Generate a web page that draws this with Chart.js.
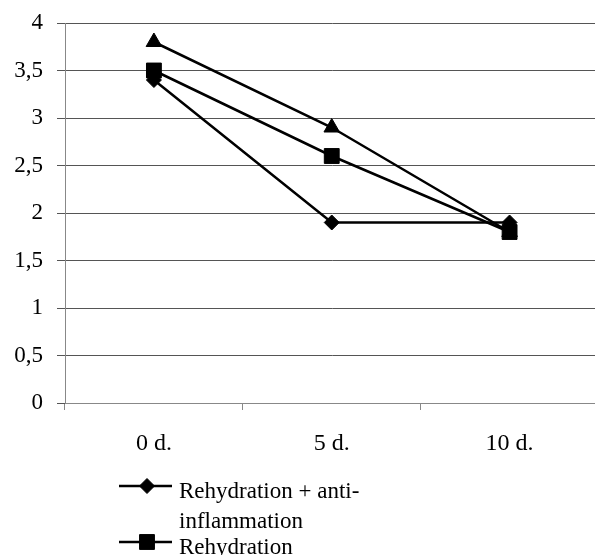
<!DOCTYPE html>
<html>
<head>
<meta charset="utf-8">
<script src="https://cdn.jsdelivr.net/npm/chart.js@4.4.1/dist/chart.umd.min.js"></script>
<style>
    html, body { margin: 0; padding: 0; background: #fff; overflow: hidden; }
    #wrap { width: 610px; height: 555px; }
</style>
</head>
<body>
<div id="wrap"><canvas id="chart" width="610" height="555"></canvas></div>
<script>
const days = ['0 d.', '5 d.', '10 d.'];
const seriesNames = ['Rehydration + anti-inflammation', 'Rehydration', 'Anti-inflammation'];
const combinedValues = [3.4, 1.9, 1.9];
const rehydrationValues = [3.5, 2.6, 1.8];
const antiInflammationValues = [3.8, 2.9, 1.8];
const yMin = 0;
const yMax = 4;
const yStep = 0.5;

const FONT = '"Liberation Serif", "Times New Roman", serif';

function fmtTick(value) {
    return String(value).replace('.', ',');
}

function wrapText(ctx, text, maxWidth) {
    const tokens = text.match(/[^\s-]+-?\s*/g) || [text];
    const lines = [];
    let current = '';
    tokens.forEach((tok) => {
        const trial = current + tok;
        if (current && ctx.measureText(trial.trim()).width > maxWidth) {
            lines.push(current.trim());
            current = tok;
        } else {
            current = trial;
        }
    });
    if (current) lines.push(current.trim());
    return lines;
}

// legend drawn under the axis, wrapped like the original
const bottomLegend = {
    id: 'bottomLegend',
    afterDraw(chart) {
        const ctx = chart.ctx;
        ctx.save();
        ctx.font = `23px ${FONT}`;
        ctx.textBaseline = 'alphabetic';
        let y = 486;
        chart.data.datasets.forEach((ds) => {
            const lines = wrapText(ctx, ds.label, 200);
            ctx.strokeStyle = '#000';
            ctx.fillStyle = '#000';
            ctx.lineWidth = 2.5;
            ctx.beginPath();
            ctx.moveTo(119, y);
            ctx.lineTo(172, y);
            ctx.stroke();
            ctx.lineWidth = 1;
            Chart.helpers.drawPoint(ctx, {
                pointStyle: ds.pointStyle,
                radius: ds.pointRadius,
                rotation: 0,
                borderWidth: 1,
            }, 147, y);
            lines.forEach((line, i) => ctx.fillText(line, 179, y + 12 + i * 30));
            y += (lines.length - 1) * 30 + 26;
        });
        ctx.restore();
    },
};

function series(label, data, pointStyle, radius) {
    return {
        label,
        data,
        borderColor: '#000',
        backgroundColor: '#000',
        borderWidth: 2.5,
        pointStyle,
        pointRadius: radius,
        pointBackgroundColor: '#000',
        pointBorderColor: '#000',
        pointBorderWidth: 1,
        tension: 0,
        fill: false,
    };
}

new Chart(document.getElementById('chart'), {
    type: 'line',
    data: {
        labels: days,
        datasets: [
            series(seriesNames[0], combinedValues, 'rectRot', 7.5),
            series(seriesNames[1], rehydrationValues, 'rect', 10.5),
            series(seriesNames[2], antiInflammationValues, 'triangle', 9),
        ],
    },
    options: {
        responsive: false,
        animation: false,
        layout: { padding: { top: 23, right: 1, bottom: 92, left: 0 } },
        plugins: {
            legend: { display: false },
            tooltip: { enabled: false },
        },
        scales: {
            x: {
                offset: true,
                grid: {
                    offset: true,
                    drawOnChartArea: false,
                    tickLength: 7,
                    color: '#888',
                },
                border: { color: '#888', width: 1 },
                ticks: {
                    color: '#000',
                    padding: 19,
                    font: { family: FONT, size: 24 },
                    maxRotation: 0,
                },
                afterFit(scale) {
                    scale.height = 60;
                    scale.paddingLeft = 0;
                    scale.paddingRight = 0;
                },
            },
            y: {
                min: yMin,
                max: yMax,
                grid: {
                    color: '#555',
                    tickLength: 8,
                    lineWidth: 1,
                },
                border: { color: '#888', width: 1 },
                ticks: {
                    stepSize: yStep,
                    color: '#000',
                    padding: 14,
                    font: { family: FONT, size: 23 },
                    callback: (v) => fmtTick(v),
                },
                afterFit(scale) {
                    scale.width = 65;
                    scale.paddingTop = 0;
                    scale.paddingBottom = 0;
                },
            },
        },
    },
    plugins: [bottomLegend],
});
</script>
</body>
</html>
